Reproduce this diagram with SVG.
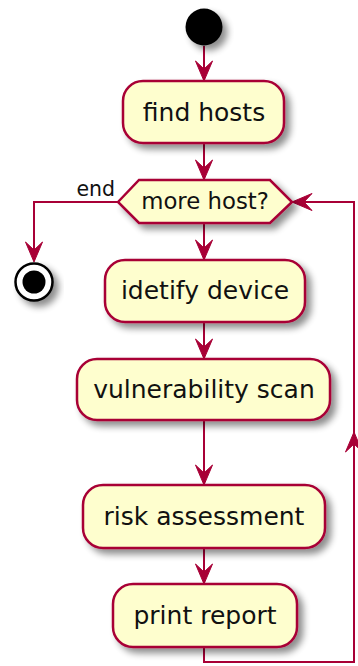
<svg xmlns="http://www.w3.org/2000/svg" width="358" height="666" viewBox="0 0 358 666">
<style>
.box{fill:#FEFECE;stroke:#A80036;stroke-width:2.5}
.ln{fill:none;stroke:#A80036;stroke-width:2}
.ah{fill:#A80036;stroke:#A80036;stroke-width:1}
.t{font-family:"DejaVu Sans",sans-serif;font-size:25px;fill:#111;text-anchor:middle}
.td{font-family:"DejaVu Sans",sans-serif;font-size:22.8px;fill:#111;text-anchor:middle}
.tl{font-family:"DejaVu Sans",sans-serif;font-size:20.5px;fill:#111;text-anchor:end}
</style>
<defs>
<filter id="sh" x="-20%" y="-20%" width="150%" height="160%">
<feGaussianBlur in="SourceAlpha" stdDeviation="3.5"/>
<feOffset dx="5" dy="5" result="b"/>
<feComponentTransfer><feFuncA type="linear" slope="0.45"/></feComponentTransfer>
<feMerge><feMergeNode/><feMergeNode in="SourceGraphic"/></feMerge>
</filter>
<path id="arr" class="ah" d="M0,0 L-8.5,-20 L0,-12 L8.5,-20 Z"/>
</defs>
<g id="connectors">
<path class="ln" d="M204,46 V81"/>
<use href="#arr" transform="translate(204,81)"/>
<path class="ln" d="M204,143 V180"/>
<use href="#arr" transform="translate(204,180)"/>
<path class="ln" d="M118,202 H34 V260"/>
<use href="#arr" transform="translate(34,262)"/>
<text class="tl" x="115" y="196">end</text>
<path class="ln" d="M204,223 V260"/>
<use href="#arr" transform="translate(204,260)"/>
<path class="ln" d="M204,322 V359"/>
<use href="#arr" transform="translate(204,359)"/>
<path class="ln" d="M204,420 V485"/>
<use href="#arr" transform="translate(204,485)"/>
<path class="ln" d="M204,548 V584"/>
<use href="#arr" transform="translate(204,584)"/>
<path class="ln" d="M204,647 V662 H354 V202 H292"/>
<use href="#arr" transform="translate(354,432) rotate(180)"/>
<use href="#arr" transform="translate(292,202) rotate(90)"/>
</g>
<g id="start">
<circle cx="204" cy="27" r="18.5" fill="#000" filter="url(#sh)"/>
</g>
<g id="find_hosts">
<rect class="box" x="123" y="81" width="161" height="62" rx="20" filter="url(#sh)"/>
<text class="t" x="204" y="121">find hosts</text>
</g>
<g id="more_host">
<polygon class="box" points="118,202 139,180 270,180 292,202 270,223 139,223" filter="url(#sh)"/>
<text class="td" x="205" y="209">more host?</text>
</g>
<g id="stop">
<circle cx="34" cy="282" r="18.5" fill="#fff" stroke="#000" stroke-width="2.5" filter="url(#sh)"/>
<circle cx="34" cy="282" r="11.5" fill="#000"/>
</g>
<g id="idetify_device">
<rect class="box" x="105" y="260" width="200" height="62" rx="20" filter="url(#sh)"/>
<text class="t" x="205" y="299">idetify device</text>
</g>
<g id="vulnerability_scan">
<rect class="box" x="77" y="359" width="253" height="61" rx="20" filter="url(#sh)"/>
<text class="t" x="204" y="398">vulnerability scan</text>
</g>
<g id="risk_assessment">
<rect class="box" x="83" y="485" width="242" height="63" rx="20" filter="url(#sh)"/>
<text class="t" x="204" y="525">risk assessment</text>
</g>
<g id="print_report">
<rect class="box" x="113" y="584" width="184" height="63" rx="20" filter="url(#sh)"/>
<text class="t" x="205" y="624">print report</text>
</g>
</svg>
